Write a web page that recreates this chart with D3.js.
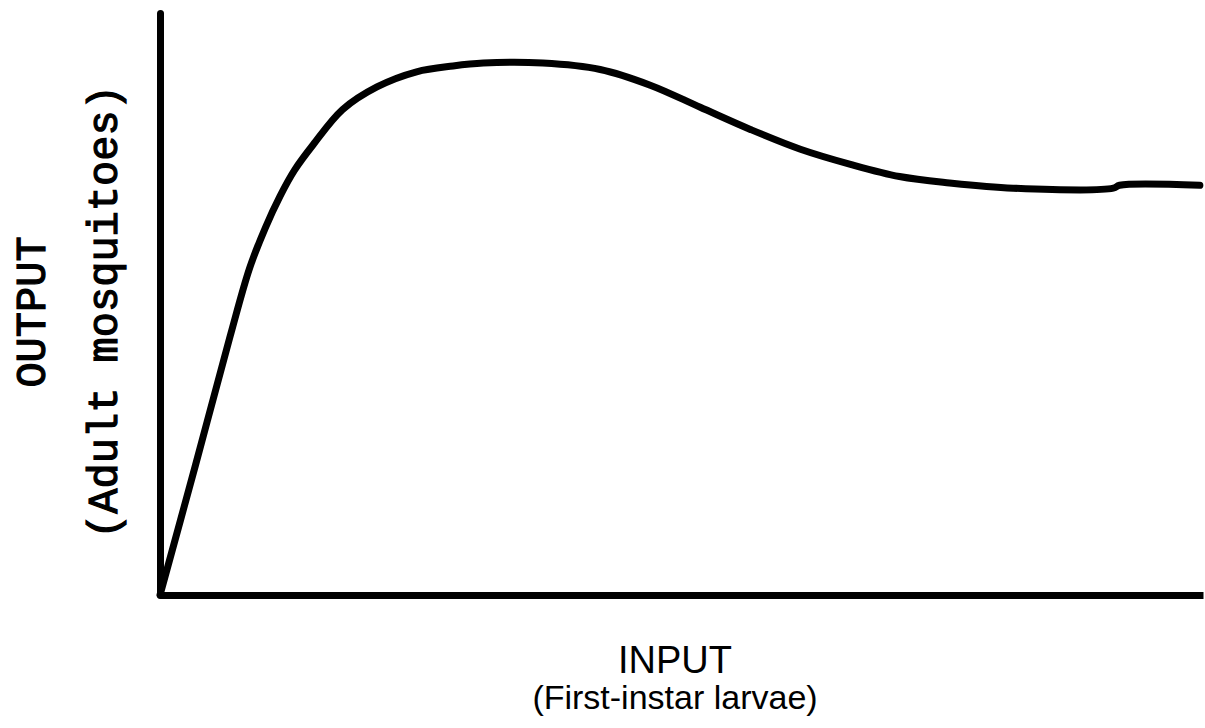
<!DOCTYPE html>
<html>
<head>
<meta charset="utf-8">
<script src="https://cdn.jsdelivr.net/npm/d3@7"></script>
<style>
  html, body { margin: 0; padding: 0; background: #fff; }
  svg { display: block; }
</style>
</head>
<body>
<svg id="chart"></svg>
<script>
// curve, arbitrary units (0-100 both ways)
const inputs  = [0, 3.4, 6.7, 8.6, 10.1, 11.5, 12.9, 14.7, 17.5, 20.8, 24.6, 28.1, 31.0, 36.7,
                 42.2, 47.0, 51.8, 56.6, 61.4, 66.2, 70.9, 75.7, 81.8, 91.4, 92.0, 99.7];
const outputs = [0, 22.3, 44.3, 56.2, 63.1, 68.5, 73.0, 77.4, 83.4, 87.3, 89.9, 90.9, 91.4, 91.4,
                 90.3, 87.6, 83.8, 80.0, 76.6, 74.0, 71.9, 70.8, 69.9, 69.9, 70.4, 70.4];

const xTitle = ['INPUT', '(First-instar larvae)'];
const yTitle = ['OUTPUT', '(Adult mosquitoes)'];

const width = 1205;
const height = 728;
const margin = { top: 13, right: 2, bottom: 133, left: 160 };

const svg = d3.select('#chart')
  .attr('width', width)
  .attr('height', height);

const x = d3.scaleLinear()
  .domain([0, 100])
  .range([margin.left, width - margin.right]);

const y = d3.scaleLinear()
  .domain([0, 100])
  .range([height - margin.bottom, margin.top]);

// axes: plain thick lines, no ticks
svg.append('g')
  .attr('transform', `translate(0,${y(0)})`)
  .call(d3.axisBottom(x).tickValues([]).tickSizeOuter(0))
  .call(g => g.select('.domain').attr('stroke', '#000').attr('stroke-width', 7));

svg.append('g')
  .attr('transform', `translate(${x(0)},0)`)
  .call(d3.axisLeft(y).tickValues([]).tickSizeOuter(0))
  .call(g => g.select('.domain').attr('stroke', '#000').attr('stroke-width', 7)
    .attr('stroke-linecap', 'round'));

const data = inputs.map((d, i) => ({ x: d, y: outputs[i] }));

const line = d3.line()
  .x(d => x(d.x))
  .y(d => y(d.y))
  .curve(d3.curveCatmullRom.alpha(0.5));

svg.append('path')
  .datum(data)
  .attr('fill', 'none')
  .attr('stroke', '#000')
  .attr('stroke-width', 7)
  .attr('stroke-linejoin', 'round')
  .attr('stroke-linecap', 'round')
  .attr('d', line);

// x title
const xt = svg.append('text')
  .attr('text-anchor', 'middle')
  .attr('font-family', 'Liberation Sans, Arial, sans-serif')
  .attr('fill', '#000');
xt.append('tspan').attr('x', 675).attr('y', 673).attr('font-size', 38).text(xTitle[0]);
xt.append('tspan').attr('x', 675).attr('y', 709).attr('font-size', 34).text(xTitle[1]);

// y title, rotated
const yt = svg.append('text')
  .attr('transform', 'translate(0,312) rotate(-90)')
  .attr('text-anchor', 'middle')
  .attr('font-family', 'Liberation Mono, Courier New, monospace')
  .attr('font-size', 42)
  .attr('stroke', '#000')
  .attr('stroke-width', 1.2)
  .attr('fill', '#000');
yt.append('tspan').attr('x', 0).attr('y', 45).text(yTitle[0]);
yt.append('tspan').attr('x', 0).attr('y', 117).text(yTitle[1]);
</script>
</body>
</html>
